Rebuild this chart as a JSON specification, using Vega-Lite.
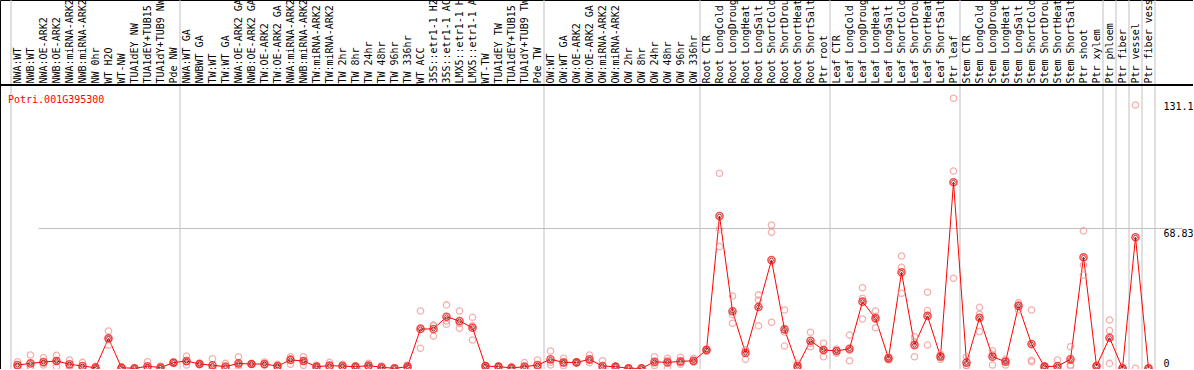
{
  "$schema": "https://vega.github.io/schema/vega-lite/v6.json",
  "width": 1193,
  "height": 369,
  "autosize": {"type": "none"},
  "padding": {"left": 0, "top": 0, "right": 0, "bottom": 0},
  "background": "white",
  "view": {"stroke": "black", "strokeWidth": 1},
  "title": {"text": "Potri.001G395300", "orient": "bottom", "anchor": "start", "frame": "group", "offset": -280, "baseline": "top", "color": "red", "font": "DejaVu Sans Mono", "fontSize": 10, "fontWeight": "normal", "dx": 8},
  "config": {"axis": {"labelFont": "DejaVu Sans Mono", "labelFontSize": 10, "labelColor": "black"}},
  "data": {"values": [
    {"sample": "NWA:WT", "mean": 1.6, "r1": 3.2, "r2": 0.8, "r3": 0.8},
    {"sample": "NWB:WT", "mean": 2.4, "r1": 6.5, "r2": 0.8, "r3": 0},
    {"sample": "NWA:OE-ARK2", "mean": 3.1, "r1": 5.2, "r2": 1.6, "r3": 2.5},
    {"sample": "NWB:OE-ARK2", "mean": 3.6, "r1": 6.4, "r2": 3.6, "r3": 0.8},
    {"sample": "NWA:miRNA-ARK2", "mean": 2.0, "r1": 4.1, "r2": 1.2, "r3": 0.7},
    {"sample": "NWB:miRNA-ARK2", "mean": 1.1, "r1": 2.9, "r2": 0.4, "r3": 0},
    {"sample": "NW 0hr", "mean": 0.3, "r1": 1.0, "r2": 0, "r3": 0},
    {"sample": "WT H2O", "mean": 14.7, "r1": 18.3, "r2": 14.4, "r3": 11.4},
    {"sample": "WT-NW", "mean": 0.3, "r1": 0.5, "r2": 0.2, "r3": 0.2},
    {"sample": "TUA1dEY NW", "mean": 0, "r1": 0, "r2": 0, "r3": 0},
    {"sample": "TUA1dEY+TUB15 NW", "mean": 1.0, "r1": 3.2, "r2": 0, "r3": 0},
    {"sample": "TUA1dY+TUB9 NW", "mean": 0.4, "r1": 1.1, "r2": 0, "r3": 0},
    {"sample": "Pde NW", "mean": 2.8, "r1": 2.8, "r2": 2.6, "r3": 3.0},
    {"sample": "NWA:WT GA", "mean": 3.6, "r1": 6.0, "r2": 3.2, "r3": 1.6},
    {"sample": "NWBWT GA", "mean": 2.1, "r1": 2.6, "r2": 2.0, "r3": 1.7},
    {"sample": "TW:WT", "mean": 1.5, "r1": 4.7, "r2": 0, "r3": 0},
    {"sample": "TW:WT GA", "mean": 0.8, "r1": 2.4, "r2": 0, "r3": 0},
    {"sample": "NWA:OE-ARK2 GA", "mean": 2.4, "r1": 5.7, "r2": 1.5, "r3": 0},
    {"sample": "NWB:OE-ARK2 GA", "mean": 2.1, "r1": 2.3, "r2": 2.0, "r3": 2.0},
    {"sample": "TW:OE-ARK2", "mean": 2.1, "r1": 3.1, "r2": 1.6, "r3": 1.6},
    {"sample": "TW:OE-ARK2 GA", "mean": 1.1, "r1": 1.9, "r2": 0.9, "r3": 0.5},
    {"sample": "NWA:miRNA-ARK2 ", "mean": 4.1, "r1": 5.7, "r2": 4.6, "r3": 2.0},
    {"sample": "NWB:miRNA-ARK2 ", "mean": 3.6, "r1": 5.7, "r2": 3.6, "r3": 1.5},
    {"sample": "TW:miRNA-ARK2", "mean": 0.8, "r1": 1.5, "r2": 0.5, "r3": 0.4},
    {"sample": "TW:miRNA-ARK2 ", "mean": 1.3, "r1": 2.9, "r2": 0.5, "r3": 0.5},
    {"sample": "TW 2hr", "mean": 1.1, "r1": 2.0, "r2": 0.8, "r3": 0.5},
    {"sample": "TW 8hr", "mean": 0.8, "r1": 1.2, "r2": 0.6, "r3": 0.6},
    {"sample": "TW 24hr", "mean": 1.3, "r1": 2.4, "r2": 0.8, "r3": 0.7},
    {"sample": "TW 48hr", "mean": 0.5, "r1": 1.1, "r2": 0.3, "r3": 0.1},
    {"sample": "TW 96hr", "mean": 0, "r1": 0, "r2": 0, "r3": 0},
    {"sample": "TW 336hr", "mean": 0.8, "r1": 1.6, "r2": 0.5, "r3": 0.3},
    {"sample": "WT ACC", "mean": 19.3, "r1": 28.1, "r2": 20.0, "r3": 9.8},
    {"sample": "35S::etr1-1 H2O", "mean": 19.3, "r1": 20.9, "r2": 21.2, "r3": 15.8},
    {"sample": "35S::etr1-1 ACC", "mean": 25.3, "r1": 31.1, "r2": 23.2, "r3": 21.6},
    {"sample": "LMX5::etr1-1 H2O", "mean": 23.2, "r1": 28.1, "r2": 21.9, "r3": 19.6},
    {"sample": "LMX5::etr1-1 ACC", "mean": 19.9, "r1": 25.0, "r2": 20.8, "r3": 13.9},
    {"sample": "WT-TW", "mean": 1.1, "r1": 1.4, "r2": 1.1, "r3": 0.8},
    {"sample": "TUA1dEY TW", "mean": 0.8, "r1": 1.1, "r2": 0.8, "r3": 0.5},
    {"sample": "TUA1dEY+TUB15 TW", "mean": 0.2, "r1": 0.8, "r2": 0, "r3": 0},
    {"sample": "TUA1dY+TUB9 TW", "mean": 0.8, "r1": 2.8, "r2": 0, "r3": 0},
    {"sample": "Pde TW", "mean": 1.6, "r1": 4.1, "r2": 0.5, "r3": 0.2},
    {"sample": "OW:WT", "mean": 4.4, "r1": 8.5, "r2": 3.0, "r3": 1.6},
    {"sample": "OW:WT GA", "mean": 2.9, "r1": 4.9, "r2": 2.6, "r3": 1.2},
    {"sample": "OW:OE-ARK2", "mean": 2.9, "r1": 3.2, "r2": 2.8, "r3": 2.7},
    {"sample": "OW:OE-ARK2 GA", "mean": 4.4, "r1": 6.5, "r2": 3.9, "r3": 2.8},
    {"sample": "OW:miRNA-ARK2", "mean": 1.1, "r1": 3.7, "r2": 0, "r3": 0},
    {"sample": "OW:miRNA-ARK2 ", "mean": 0.8, "r1": 1.0, "r2": 0.8, "r3": 0.6},
    {"sample": "OW 2hr", "mean": 0, "r1": 0, "r2": 0, "r3": 0},
    {"sample": "OW 8hr", "mean": 0, "r1": 0, "r2": 0, "r3": 0},
    {"sample": "OW 24hr", "mean": 3.2, "r1": 5.7, "r2": 2.5, "r3": 1.4},
    {"sample": "OW 48hr", "mean": 2.9, "r1": 4.9, "r2": 3.8, "r3": 0},
    {"sample": "OW 96hr", "mean": 3.4, "r1": 5.4, "r2": 2.8, "r3": 2.0},
    {"sample": "OW 336hr", "mean": 3.7, "r1": 4.9, "r2": 3.2, "r3": 3.0},
    {"sample": "Root CTR", "mean": 9.0, "r1": 9.6, "r2": 9.0, "r3": 8.4},
    {"sample": "Root LongCold", "mean": 74.7, "r1": 95.7, "r2": 68.3, "r3": 59.7},
    {"sample": "Root LongDrought", "mean": 28.0, "r1": 35.5, "r2": 26.4, "r3": 22.1},
    {"sample": "Root LongHeat", "mean": 7.5, "r1": 9.0, "r2": 9.1, "r3": 4.4},
    {"sample": "Root LongSalt", "mean": 30.1, "r1": 36.0, "r2": 33.5, "r3": 20.8},
    {"sample": "Root ShortCold", "mean": 53.1, "r1": 70.3, "r2": 66.7, "r3": 22.6},
    {"sample": "Root ShortDrought", "mean": 19.1, "r1": 28.6, "r2": 17.8, "r3": 10.9},
    {"sample": "Root ShortHeat", "mean": 1.1, "r1": 2.5, "r2": 0.5, "r3": 0.3},
    {"sample": "Root ShortSalt", "mean": 13.5, "r1": 17.7, "r2": 12.2, "r3": 10.6},
    {"sample": "Ptr root", "mean": 9.0, "r1": 12.3, "r2": 9.0, "r3": 5.7},
    {"sample": "Leaf CTR", "mean": 8.5, "r1": 9.5, "r2": 8.6, "r3": 7.4},
    {"sample": "Leaf LongCold", "mean": 9.6, "r1": 16.3, "r2": 8.8, "r3": 3.7},
    {"sample": "Leaf LongDrought", "mean": 32.7, "r1": 39.5, "r2": 34.4, "r3": 24.2},
    {"sample": "Leaf LongHeat", "mean": 24.5, "r1": 28.1, "r2": 25.5, "r3": 19.9},
    {"sample": "Leaf LongSalt", "mean": 4.9, "r1": 5.7, "r2": 4.9, "r3": 4.1},
    {"sample": "Leaf ShortCold", "mean": 47.1, "r1": 55.1, "r2": 49.6, "r3": 36.8},
    {"sample": "Leaf ShortDrought", "mean": 11.4, "r1": 15.5, "r2": 13.0, "r3": 5.7},
    {"sample": "Leaf ShortHeat", "mean": 25.7, "r1": 37.3, "r2": 28.3, "r3": 11.4},
    {"sample": "Leaf ShortSalt", "mean": 5.7, "r1": 6.9, "r2": 5.8, "r3": 4.4},
    {"sample": "Ptr leaf", "mean": 91.3, "r1": 132.5, "r2": 96.8, "r3": 44.2},
    {"sample": "Stem CTR", "mean": 2.8, "r1": 5.7, "r2": 1.5, "r3": 1.2},
    {"sample": "Stem LongCold", "mean": 24.8, "r1": 29.9, "r2": 26.5, "r3": 18.0},
    {"sample": "Stem LongDrought", "mean": 5.7, "r1": 8.6, "r2": 6.9, "r3": 1.6},
    {"sample": "Stem LongHeat", "mean": 3.2, "r1": 4.4, "r2": 3.6, "r3": 1.6},
    {"sample": "Stem LongSalt", "mean": 30.6, "r1": 32.2, "r2": 31.0, "r3": 28.6},
    {"sample": "Stem ShortCold", "mean": 11.9, "r1": 28.6, "r2": 3.2, "r3": 3.9},
    {"sample": "Stem ShortDrought", "mean": 0.8, "r1": 1.4, "r2": 0.6, "r3": 0.4},
    {"sample": "Stem ShortHeat", "mean": 1.1, "r1": 4.1, "r2": 0, "r3": 0},
    {"sample": "Stem ShortSalt", "mean": 4.4, "r1": 10.6, "r2": 1.6, "r3": 1.0},
    {"sample": "Ptr shoot", "mean": 54.5, "r1": 67.4, "r2": 50.7, "r3": 45.8},
    {"sample": "Ptr xylem", "mean": 1.1, "r1": 1.3, "r2": 1.1, "r3": 0.9},
    {"sample": "Ptr phloem", "mean": 15.0, "r1": 23.7, "r2": 18.5, "r3": 2.4},
    {"sample": "Ptr fiber", "mean": 0, "r1": 0.3, "r2": 0, "r3": 0},
    {"sample": "Ptr vessel", "mean": 64.3, "r1": 129.2, "r2": 0, "r3": null},
    {"sample": "Ptr fiber vessel", "mean": 0, "r1": 0, "r2": 0, "r3": null}
  ]},
  "layer": [
    {
      "mark": {"type": "rule", "color": "#c0c0c0", "strokeWidth": 1},
      "encoding": {
        "x": {"field": "sample", "type": "nominal", "sort": null, "bandPosition": 0,
          "scale": {"range": [11, 1155], "paddingInner": 0, "paddingOuter": 0},
          "axis": {"orient": "top", "offset": -85, "title": null, "labelAngle": -90, "labelAlign": "left", "labelBaseline": "middle", "ticks": false, "tickSize": 0, "domain": false, "labelPadding": 2, "labelLimit": 0, "labelOverlap": false, "labelBound": false, "grid": false}},
        "strokeOpacity": {"condition": {"test": "indexof(['NWA:WT','NWA:WT GA','OW:WT','Root CTR','Leaf CTR','Stem CTR','Ptr phloem','Ptr fiber','Ptr vessel','Ptr fiber vessel'], datum.sample) >= 0", "value": 1}, "value": 0}
      }
    },
    {
      "mark": {"type": "rule", "color": "#c0c0c0", "strokeWidth": 1},
      "encoding": {
        "x": {"field": "sample", "type": "nominal", "sort": null, "bandPosition": 1},
        "strokeOpacity": {"condition": {"test": "datum.sample == 'Ptr fiber vessel'", "value": 1}, "value": 0}
      }
    },
    {
      "mark": {"type": "line", "color": "red", "strokeWidth": 1},
      "encoding": {
        "x": {"field": "sample", "type": "nominal", "sort": null},
        "y": {"field": "mean", "type": "quantitative",
          "scale": {"domain": [-0.34, 180.7], "nice": false, "zero": false},
          "axis": {"orient": "right", "offset": -30, "values": [0, 68.83, 131.1], "format": ".4~g", "title": null, "ticks": false, "tickSize": 0, "domain": false, "labelPadding": 0, "labelAlign": "left",
            "labelBaseline": {"condition": {"test": "datum.value == 0", "value": "bottom"}, "value": "top"},
            "grid": true, "gridColor": "#c0c0c0", "gridWidth": 1,
            "gridOpacity": {"condition": {"test": "datum.value == 68.83", "value": 1}, "value": 0}}}
      }
    },
    {
      "mark": {"type": "rule", "color": "black", "strokeWidth": 1},
      "encoding": {"y": {"datum": 139.0}}
    },
    {
      "transform": [{"fold": ["r1", "r2", "r3"], "as": ["rep", "value"]}, {"filter": "isValid(datum.value)"}],
      "mark": {"type": "point", "shape": "circle", "filled": false, "color": "#f09090", "size": 40, "strokeWidth": 1.3},
      "encoding": {
        "x": {"field": "sample", "type": "nominal", "sort": null},
        "y": {"field": "value", "type": "quantitative"}
      }
    },
    {
      "mark": {"type": "point", "shape": "circle", "filled": false, "color": "red", "size": 50, "strokeWidth": 1.6},
      "encoding": {
        "x": {"field": "sample", "type": "nominal", "sort": null},
        "y": {"field": "mean", "type": "quantitative"}
      }
    },
    {
      "mark": {"type": "point", "shape": "circle", "filled": false, "color": "#500000", "size": 14, "strokeWidth": 1},
      "encoding": {
        "x": {"field": "sample", "type": "nominal", "sort": null},
        "y": {"field": "mean", "type": "quantitative"}
      }
    }
  ]
}
